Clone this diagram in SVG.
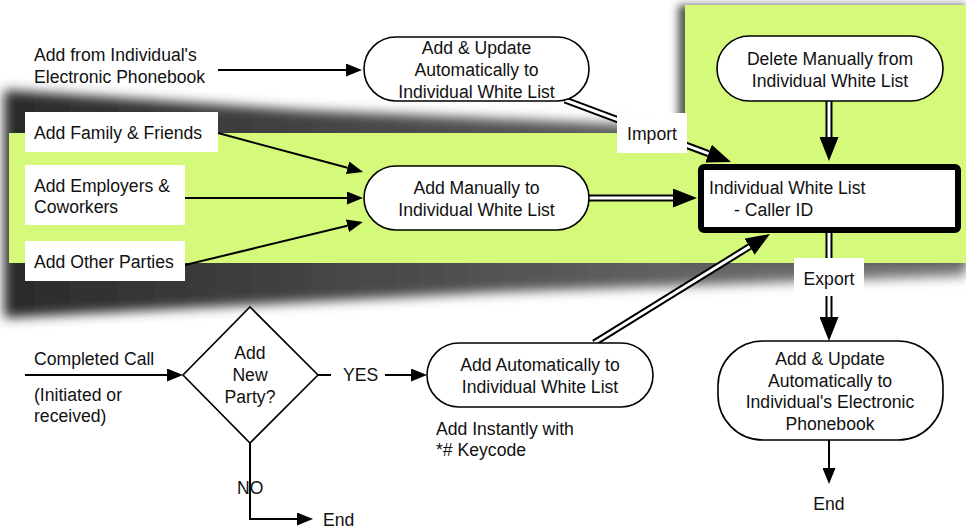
<svg xmlns="http://www.w3.org/2000/svg" width="966" height="529" viewBox="0 0 966 529">
  <defs>
    <style>
      text { font-family: "Liberation Sans", Arial, Helvetica, sans-serif; font-size: 17.6px; fill: #111; }
      .c { text-anchor: middle; }
      .node { fill: #fff; stroke: #000; stroke-width: 1.6; }
      .box { fill: #fff; stroke: none; }
      .line { fill: none; stroke: #000; stroke-width: 2; }
      .dblOut { fill: none; stroke: #000; stroke-width: 7; }
      .dblIn { fill: none; stroke: #fff; stroke-width: 3; }
    </style>
    <filter id="blurBig" x="-10%" y="-30%" width="120%" height="160%">
      <feGaussianBlur stdDeviation="6"/>
    </filter>
    <filter id="blurSmall" x="-10%" y="-10%" width="120%" height="120%">
      <feGaussianBlur stdDeviation="4"/>
    </filter>
    <linearGradient id="shadeFade" x1="0" y1="0" x2="1" y2="0">
      <stop offset="0" stop-color="#2a2a2a"/>
      <stop offset="0.4" stop-color="#4a4a4a"/>
      <stop offset="1" stop-color="#7a7a7a"/>
    </linearGradient>
    <marker id="head" markerUnits="userSpaceOnUse" markerWidth="17" markerHeight="13" refX="0" refY="6.5" orient="auto">
      <path d="M0,0 L16,6.5 L0,13 z" fill="#000"/>
    </marker>
    <marker id="headBig" markerUnits="userSpaceOnUse" markerWidth="25" markerHeight="19" refX="0" refY="9.5" orient="auto">
      <path d="M0,0 L24,9.5 L0,19 z" fill="#000"/>
    </marker>
  </defs>

  <rect width="966" height="529" fill="#fff"/>

  <!-- shaded backdrop: green panels with their drop shadows -->
  <g id="backdrop">
    <polygon points="4,90 300,110 690,127 966,129 966,276 500,292 4,318" fill="url(#shadeFade)" filter="url(#blurBig)"/>
    <rect x="678" y="5" width="288" height="258" fill="#555" filter="url(#blurSmall)"/>
    <rect x="9" y="133" width="957" height="130" fill="#d5f97b"/>
    <rect x="685" y="5" width="281" height="258" fill="#d5f97b"/>
  </g>

  <!-- connectors -->
  <g id="connectors">
    <line class="line" x1="218" y1="70" x2="346" y2="70" marker-end="url(#head)"/>
    <line class="line" x1="218" y1="133" x2="347.6" y2="167.8" marker-end="url(#head)"/>
    <line class="line" x1="185" y1="198" x2="347" y2="198" marker-end="url(#head)"/>
    <line class="line" x1="185" y1="265" x2="347.4" y2="225.8" marker-end="url(#head)"/>
    <line class="line" x1="25" y1="375" x2="167" y2="375" marker-end="url(#head)"/>
    <line class="line" x1="318" y1="375" x2="331" y2="375"/>
    <line class="line" x1="385" y1="375" x2="411" y2="375" marker-end="url(#head)"/>
    <path class="line" d="M250,443 V519 H297" marker-end="url(#head)"/>
    <line class="line" x1="829" y1="440" x2="829" y2="468" marker-end="url(#head)"/>

    <!-- double-ruled flows -->
    <line class="dblOut" x1="829" y1="101" x2="829" y2="137" marker-end="url(#headBig)"/>
    <line class="dblIn" x1="829" y1="101" x2="829" y2="137"/>
    <line class="dblOut" x1="589" y1="198" x2="673" y2="198" marker-end="url(#headBig)"/>
    <line class="dblIn" x1="589" y1="198" x2="673" y2="198"/>
    <line class="dblOut" x1="565" y1="100" x2="708.5" y2="153.6" marker-end="url(#headBig)"/>
    <line class="dblIn" x1="565" y1="100" x2="708.5" y2="153.6"/>
    <line class="dblOut" x1="594" y1="343" x2="749.6" y2="246.6" marker-end="url(#headBig)"/>
    <line class="dblIn" x1="594" y1="343" x2="749.6" y2="246.6"/>
    <line class="dblOut" x1="829" y1="233" x2="829" y2="317" marker-end="url(#headBig)"/>
    <line class="dblIn" x1="829" y1="233" x2="829" y2="317"/>
  </g>

  <g id="src-phonebook">
    <text x="34" y="61">Add from Individual's</text>
    <text x="34" y="83">Electronic Phonebook</text>
  </g>

  <g id="auto-update">
    <rect class="node" x="364" y="37" width="225" height="64" rx="32"/>
    <text class="c" x="476.5" y="54">Add &amp; Update</text>
    <text class="c" x="476.5" y="76">Automatically to</text>
    <text class="c" x="476.5" y="98">Individual White List</text>
  </g>

  <g id="family">
    <rect class="box" x="25" y="112" width="193" height="40"/>
    <text x="34" y="139">Add Family &amp; Friends</text>
  </g>

  <g id="employers">
    <rect class="box" x="25" y="165" width="160" height="60"/>
    <text x="34" y="192">Add Employers &amp;</text>
    <text x="34" y="213">Coworkers</text>
  </g>

  <g id="others">
    <rect class="box" x="25" y="241" width="160" height="40"/>
    <text x="34" y="268">Add Other Parties</text>
  </g>

  <g id="manual-add">
    <rect class="node" x="364" y="166" width="225" height="64" rx="32"/>
    <text class="c" x="476.5" y="194">Add Manually to</text>
    <text class="c" x="476.5" y="216">Individual White List</text>
  </g>

  <g id="delete">
    <rect class="node" x="717" y="36" width="226" height="65" rx="32.5"/>
    <text class="c" x="830" y="65">Delete Manually from</text>
    <text class="c" x="830" y="87">Individual White List</text>
  </g>

  <g id="white-list">
    <rect x="701" y="167" width="257" height="63" rx="3" fill="#fff" stroke="#000" stroke-width="6"/>
    <text x="709" y="194">Individual White List</text>
    <text x="734" y="216">- Caller ID</text>
  </g>

  <g id="import-label">
    <rect class="box" x="617" y="113" width="70" height="40"/>
    <text class="c" x="652" y="140">Import</text>
  </g>

  <g id="export-label">
    <rect class="box" x="794" y="258" width="70" height="38"/>
    <text class="c" x="829" y="285">Export</text>
  </g>

  <g id="completed-call">
    <text x="34" y="365">Completed Call</text>
    <text x="34" y="401">(Initiated or</text>
    <text x="34" y="422">received)</text>
  </g>

  <g id="decision">
    <polygon class="node" points="250,307 318,375 250,443 183,375"/>
    <text class="c" x="250" y="359">Add</text>
    <text class="c" x="250" y="381">New</text>
    <text class="c" x="250" y="403">Party?</text>
  </g>

  <g id="yes-label">
    <text x="343" y="381">YES</text>
  </g>

  <g id="no-label">
    <text x="237" y="494">NO</text>
  </g>

  <g id="end-left">
    <text x="323" y="526">End</text>
  </g>

  <g id="auto-add">
    <rect class="node" x="427" y="343" width="226" height="64" rx="32"/>
    <text class="c" x="540" y="371">Add Automatically to</text>
    <text class="c" x="540" y="393">Individual White List</text>
  </g>

  <g id="keycode-note">
    <text x="436" y="435">Add Instantly with</text>
    <text x="436" y="456">*# Keycode</text>
  </g>

  <g id="export-phonebook">
    <rect class="node" x="718" y="341" width="225" height="99" rx="45"/>
    <text class="c" x="830" y="365">Add &amp; Update</text>
    <text class="c" x="830" y="387">Automatically to</text>
    <text class="c" x="830" y="408">Individual's Electronic</text>
    <text class="c" x="830" y="430">Phonebook</text>
  </g>

  <g id="end-right">
    <text class="c" x="829" y="510">End</text>
  </g>
</svg>
